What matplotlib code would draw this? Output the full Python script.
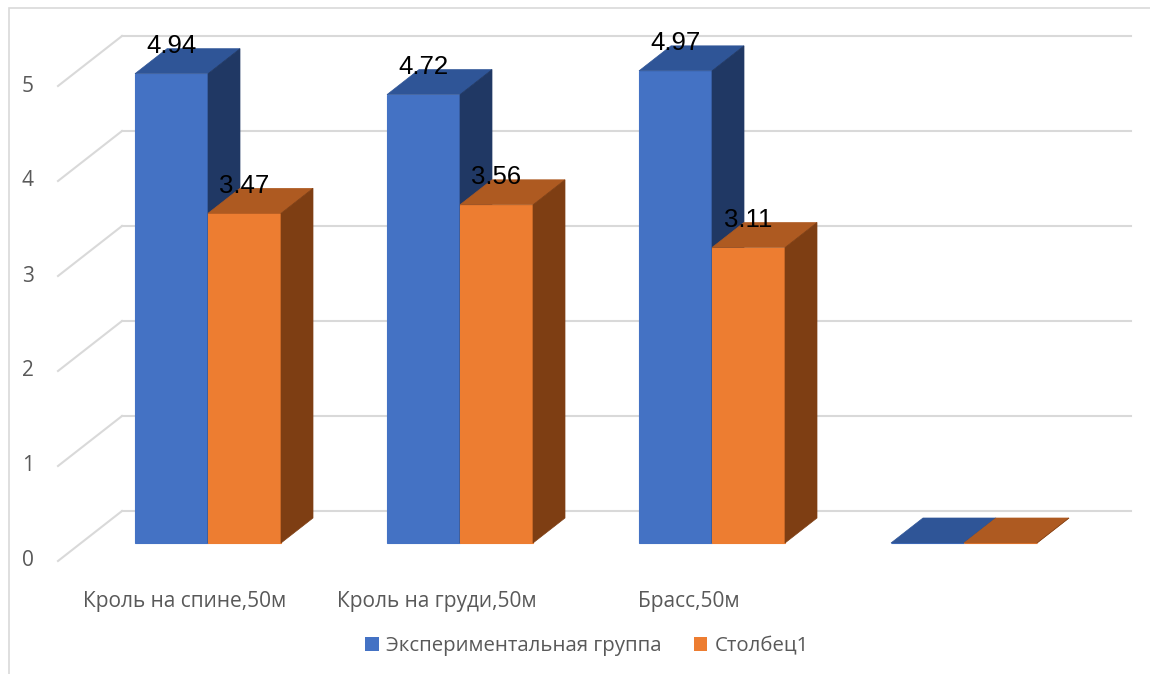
import matplotlib
matplotlib.use("Agg")
import matplotlib.pyplot as plt
from matplotlib.patches import Polygon, Rectangle, Patch

categories = ["Кроль на спине,50м", "Кроль на груди,50м", "Брасс,50м", ""]
series_names = ["Экспериментальная группа", "Столбец1"]
exp_group = [4.94, 4.72, 4.97, 0]
stolbec1 = [3.47, 3.56, 3.11, 0]
y_ticks = [0, 1, 2, 3, 4, 5]

front_cols = ["#4472C4", "#ED7D31"]
top_cols = ["#2F5597", "#AE5A21"]
side_cols = ["#203864", "#7E3E13"]

W, H = 1150, 674
fig = plt.figure(figsize=(W / 100, H / 100), dpi=100)
ax = fig.add_axes([0, 0, 1, 1])
ax.set_axis_off()

# pixel-based scale: 1 category = 252 px, 1 value unit = 95 px
CX, VY = 252.0, 95.0
X0PIX, Y0PIX = 208.0, 543.0
ax.set_xlim(-X0PIX / CX, (W - X0PIX) / CX)
ax.set_ylim((Y0PIX - H) / VY, Y0PIX / VY)

DX = 32 / CX  # bar depth offset in x
DY = 25 / VY  # bar depth offset in y
BW = 73 / CX  # bar width

label_font = ["Open Sans", "DejaVu Sans"]


def off(t):
    return t * DX, t * DY

grid_c = "#D9D9D9"
t_back, t_front = 1.28, -0.72
bx, by = off(t_back)
fx, fy = off(t_front)
wall_left_back = (122 - X0PIX) / CX
wall_right_back = (1131 - X0PIX) / CX
for v in y_ticks:
    ax.plot([wall_left_back, wall_right_back], [v + by, v + by], color=grid_c, lw=1.5, zorder=1)
    ax.plot([wall_left_back, wall_left_back - (t_back - t_front) * DX],
            [v + by, v + by - (t_back - t_front) * DY], color=grid_c, lw=1.5, zorder=1)
    ax.text((28 - X0PIX) / CX, v + fy, str(v), ha="center", va="center",
            fontsize=15, color="#595959", family=label_font)

for i, name in enumerate(categories):
    ax.text(i + fx, -0.62, name, ha="center", va="center", fontsize=15,
            color="#595959", family=label_font)

z = 3
for i in range(len(categories)):
    for s, vals in enumerate([exp_group, stolbec1]):
        v = vals[i]
        x0 = i - BW + s * BW
        x1 = x0 + BW
        ax.add_patch(Rectangle((x0, 0), BW, v, facecolor=front_cols[s],
                               edgecolor=front_cols[s], lw=0.8, zorder=z))
        ax.add_patch(Polygon([(x0, v), (x1, v), (x1 + DX, v + DY), (x0 + DX, v + DY)],
                             closed=True, facecolor=top_cols[s], edgecolor=top_cols[s],
                             lw=0.5, zorder=z))
        ax.add_patch(Polygon([(x1, 0), (x1 + DX, DY), (x1 + DX, v + DY), (x1, v)],
                             closed=True, facecolor=side_cols[s], edgecolor=side_cols[s],
                             lw=0.5, zorder=z))
        z += 1
        if v > 0:
            ax.text((x0 + x1) / 2, v + 0.29, f"{v:.2f}", ha="center", va="center",
                    fontsize=18.5, color="#000000", zorder=20,
                    family=["Liberation Sans", "DejaVu Sans"])

# chart border
ax.add_patch(Rectangle((9 / W, -0.1), 2, 1.1 - 8 / H, transform=fig.transFigure,
                       fill=False, edgecolor="#D9D9D9", lw=1.2, zorder=0))

handles = [Patch(facecolor=front_cols[0]), Patch(facecolor=front_cols[1])]
fig.legend(handles, series_names, loc="center", bbox_to_anchor=(587 / W, 1 - 646 / H),
           ncol=2, frameon=False, handlelength=0.65, handleheight=0.65,
           handletextpad=0.35, columnspacing=1.6,
           prop={"family": label_font, "size": 14.7},
           labelcolor="#595959")

fig.savefig("out.png", dpi=100)
